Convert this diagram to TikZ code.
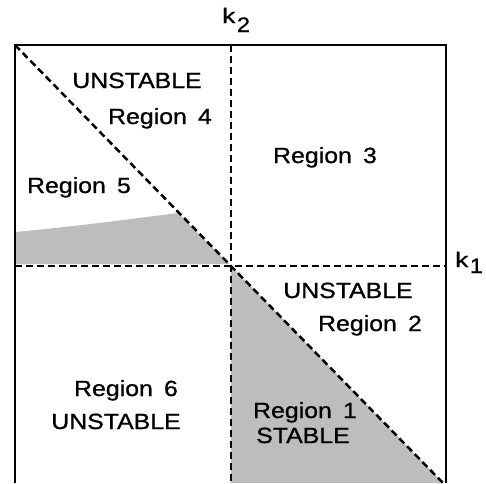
\documentclass[tikz,border=0pt]{standalone}
\usepackage{fontspec}
\usepackage{graphicx}
\setmainfont{Liberation Sans}
\newcommand{\widetxt}[1]{\scalebox{1.13}[1]{#1}}
\begin{document}
\begin{tikzpicture}[x=1pt,y=-1pt,
  frame/.style={line width=2.4pt, line join=miter},
  dline/.style={line width=2.5pt, dash pattern=on 7pt off 4pt},
  shade/.style={fill=black!26, draw=none},
  lbl/.style={anchor=base, inner sep=0pt, font=\fontsize{22}{26}\selectfont\addfontfeature{FakeBold=0.8}},
  axl/.style={anchor=base west, inner sep=0pt, font=\fontsize{21}{25}\selectfont\addfontfeature{FakeBold=0.8}}]
\useasboundingbox (0,0) rectangle (486,483);
% corners and crossing
\coordinate (TL) at (15,45);
\coordinate (TR) at (446,45);
\coordinate (BL) at (15,483);
\coordinate (BR) at (446,483);
\coordinate (C) at (231,266);
\coordinate (VT) at (231,45);
\coordinate (VB) at (231,483);
\coordinate (HL) at (15,266);
\coordinate (HR) at (446,266);
\coordinate (DE) at (443,483);
% shaded areas
\fill[shade] (15,232) .. controls (80,226) and (130,219) .. (178,213) -- (229,264) -- (15,264) -- cycle;
\fill[shade] (C) -- (DE) -- (VB) -- cycle;
% dashed lines
\draw[dline] (VT) -- (VB);
\draw[dline] (HL) -- (HR);
\draw[dline] (TL) -- (DE);
% frame
\draw[frame] (BL) -- (TL) -- (TR) -- (BR);
% axis labels
\node[axl] (k2) at (222,23) {\scalebox{1.25}[1]{k}\raisebox{-9pt}{\kern1.5pt\widetxt{2}}};
\node[axl] (k1) at (455,267) {\scalebox{1.25}[1]{k}\raisebox{-6pt}{\kern1.5pt\widetxt{1}}};
% region labels
\node[lbl] (u4) at (137,88) {\widetxt{UNSTABLE}};
\node[lbl] (r4) at (160,124) {\widetxt{Region\hspace{0.45em}4}};
\node[lbl] (r5) at (79,193) {\widetxt{Region\hspace{0.45em}5}};
\node[lbl] (r3) at (325,163) {\widetxt{Region\hspace{0.45em}3}};
\node[lbl] (u2) at (348,298) {\widetxt{UNSTABLE}};
\node[lbl] (r2) at (370,331) {\widetxt{Region\hspace{0.45em}2}};
\node[lbl] (r1) at (305,418) {\widetxt{Region\hspace{0.45em}1}};
\node[lbl] (s1) at (303,443) {\widetxt{STABLE}};
\node[lbl] (r6) at (126,396) {\widetxt{Region\hspace{0.45em}6}};
\node[lbl] (u6) at (116,429) {\widetxt{UNSTABLE}};
\end{tikzpicture}
\end{document}
